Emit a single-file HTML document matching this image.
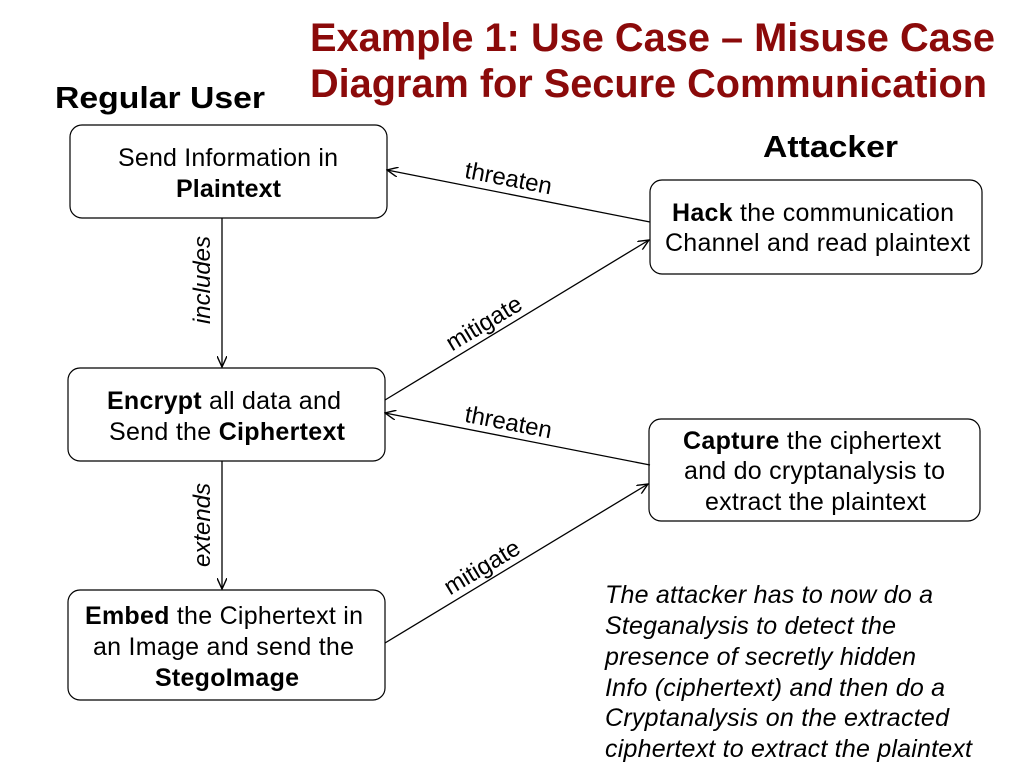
<!DOCTYPE html>
<html><head><meta charset="utf-8"><style>
html,body{margin:0;padding:0;background:#fff;}
svg{display:block;font-family:"Liberation Sans",Arial,sans-serif;}
</style></head><body>
<svg width="1024" height="768" viewBox="0 0 1024 768" xmlns="http://www.w3.org/2000/svg">
<defs>
<marker id="a" markerWidth="12" markerHeight="10" refX="11" refY="5" orient="auto" markerUnits="userSpaceOnUse">
<path d="M0,0 L11,5 L0,10" fill="none" stroke="#000" stroke-width="1.4"/>
</marker>
</defs>
<g fill="#8b0a0a" font-weight="bold" font-size="40">
<text x="310" y="51" textLength="685" lengthAdjust="spacingAndGlyphs">Example 1: Use Case – Misuse Case</text>
<text x="310" y="97" textLength="677" lengthAdjust="spacingAndGlyphs">Diagram for Secure Communication</text>
</g>
<g font-weight="bold" font-size="31" fill="#000">
<text x="55" y="108" textLength="210" lengthAdjust="spacingAndGlyphs">Regular User</text>
<text x="763" y="157" textLength="135" lengthAdjust="spacingAndGlyphs">Attacker</text>
</g>
<g fill="#fff" stroke="#000" stroke-width="1.2">
<rect x="70" y="125" width="317" height="93" rx="12"/>
<rect x="68" y="368" width="317" height="93" rx="12"/>
<rect x="68" y="590" width="317" height="110" rx="12"/>
<rect x="650" y="180" width="332" height="94" rx="12"/>
<rect x="649" y="419" width="331" height="102" rx="12"/>
</g>
<g font-size="25" fill="#000" lengthAdjust="spacingAndGlyphs">
<text x="118" y="166" textLength="220">Send Information in</text>
<text x="176" y="197" textLength="105" font-weight="bold">Plaintext</text>
<text x="107" y="409" textLength="234"><tspan font-weight="bold">Encrypt</tspan> all data and</text>
<text x="109" y="440" textLength="236">Send the <tspan font-weight="bold">Ciphertext</tspan></text>
<text x="85" y="624" textLength="278"><tspan font-weight="bold">Embed</tspan> the Ciphertext in</text>
<text x="93" y="655" textLength="261">an Image and send the</text>
<text x="155" y="686" textLength="144" font-weight="bold">StegoImage</text>
<text x="672" y="221" textLength="282"><tspan font-weight="bold">Hack</tspan> the communication</text>
<text x="665" y="251" textLength="305">Channel and read plaintext</text>
<text x="683" y="449" textLength="258"><tspan font-weight="bold">Capture</tspan> the ciphertext</text>
<text x="684" y="479" textLength="261">and do cryptanalysis to</text>
<text x="705" y="510" textLength="221">extract the plaintext</text>
</g>
<g stroke="#000" stroke-width="1.3" fill="none" marker-end="url(#a)">
<line x1="650" y1="222" x2="387" y2="170"/>
<line x1="222" y1="218" x2="222" y2="367"/>
<line x1="385" y1="400" x2="649" y2="240"/>
<line x1="650" y1="465" x2="385" y2="413"/>
<line x1="222" y1="461" x2="222" y2="589"/>
<line x1="385" y1="643" x2="648" y2="484"/>
</g>
<g font-size="24" fill="#000" text-anchor="middle">
<text transform="translate(507,186) rotate(11)">threaten</text>
<text transform="translate(507,430) rotate(11)">threaten</text>
<text transform="translate(488,330) rotate(-31)">mitigate</text>
<text transform="translate(486,574) rotate(-31)">mitigate</text>
<text transform="translate(210,280) rotate(-90)" font-style="italic">includes</text>
<text transform="translate(210,525) rotate(-90)" font-style="italic">extends</text>
</g>
<g font-size="25" font-style="italic" fill="#000" lengthAdjust="spacingAndGlyphs">
<text x="605" y="603" textLength="328">The attacker has to now do a</text>
<text x="605" y="634" textLength="291">Steganalysis to detect the</text>
<text x="605" y="665" textLength="311">presence of secretly hidden</text>
<text x="605" y="696" textLength="340">Info (ciphertext) and then do a</text>
<text x="605" y="726" textLength="344">Cryptanalysis on the extracted</text>
<text x="605" y="757" textLength="367">ciphertext to extract the plaintext</text>
</g>
</svg>
</body></html>
